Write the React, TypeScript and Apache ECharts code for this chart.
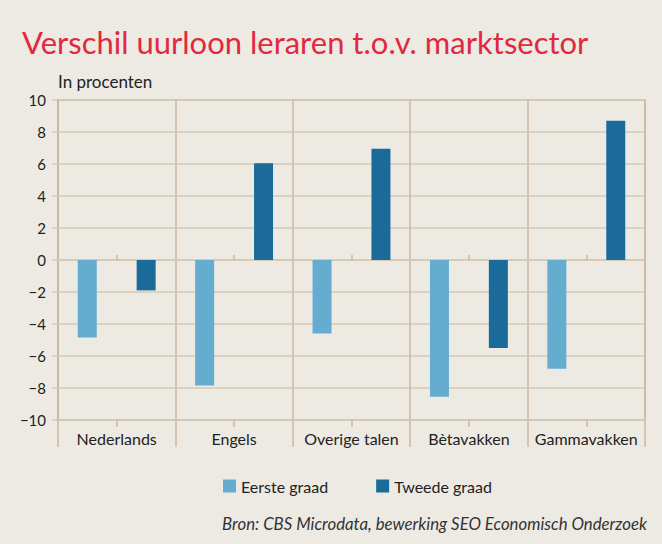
import React, { useEffect, useRef } from "react";
import * as echarts from "echarts";

const categories = ["Nederlands", "Engels", "Overige talen", "Bètavakken", "Gammavakken"];
const eersteGraad = [-4.85, -7.85, -4.6, -8.55, -6.8];
const tweedeGraad = [-1.9, 6.05, 6.95, -5.5, 8.7];
const seriesNames = ["Eerste graad", "Tweede graad"];
const titleText = "Verschil uurloon leraren t.o.v. marktsector";
const unitText = "In procenten";
const sourceText = "Bron: CBS Microdata, bewerking SEO Economisch Onderzoek";

const FONT = "Lato";
const BG = "#EDEAE3";
const GRID_H = "#D5C8B4";
const GRID_V = "#CAB9A0";
const LIGHT = "#64ADD1";
const DARK = "#1B6B9A";
const TEXT = "#222222";

export default function App() {
  const ref = useRef<HTMLDivElement>(null);
  useEffect(() => {
    if (!ref.current) return;
    const chart = echarts.init(ref.current, undefined, { renderer: "svg" });
    const minus = (v: number) => (v < 0 ? "\u2212" + Math.abs(v) : String(v));
    chart.setOption({
      animation: false,
      backgroundColor: BG,
      textStyle: { fontFamily: FONT },
      grid: {
        left: 58,
        right: 17,
        top: 100,
        bottom: 124,
        show: true,
        borderColor: GRID_V,
        borderWidth: 1.5,
        backgroundColor: "transparent",
      },
      legend: {
        left: 223,
        top: 478,
        padding: 0,
        itemWidth: 13,
        itemHeight: 13,
        itemGap: 48,
        icon: "rect",
        textStyle: { fontFamily: FONT, fontSize: 16, color: TEXT },
        data: seriesNames,
      },
      xAxis: [
        {
          type: "category",
          data: categories,
          position: "bottom",
          axisLine: { show: true, onZero: false, lineStyle: { color: GRID_H, width: 1.5 } },
          axisTick: { show: true, interval: 0, length: 27, lineStyle: { color: GRID_V, width: 1.5 } },
          axisLabel: { interval: 0, color: TEXT, fontSize: 16, fontFamily: FONT, margin: 10 },
          splitLine: { show: true, interval: 0, lineStyle: { color: GRID_V, width: 1.5 } },
        },
        {
          type: "category",
          data: categories,
          position: "bottom",
          axisLine: { show: false, onZero: false },
          axisTick: { show: true, interval: 0, alignWithLabel: true, length: 7, lineStyle: { color: GRID_V, width: 1.5 } },
          axisLabel: { show: false },
          splitLine: { show: false },
        },
        {
          type: "category",
          data: categories,
          axisLine: { show: true, onZero: true, lineStyle: { color: GRID_H, width: 1.5 } },
          axisTick: { show: true, interval: 0, alignWithLabel: true, length: 5, lineStyle: { color: GRID_V, width: 1.5 } },
          axisLabel: { show: false },
          splitLine: { show: false },
        },
      ],
      yAxis: {
        type: "value",
        min: -10,
        max: 10,
        interval: 2,
        axisLine: { show: true, lineStyle: { color: GRID_V, width: 1.5 } },
        axisTick: { show: true, length: 6, lineStyle: { color: GRID_H, width: 1.5 } },
        axisLabel: { color: TEXT, fontSize: 15, fontFamily: FONT, margin: 12, formatter: minus },
        splitLine: { show: true, lineStyle: { color: GRID_H, width: 1.5 } },
      },
      series: [
        {
          name: seriesNames[0],
          type: "bar",
          xAxisIndex: 0,
          data: eersteGraad,
          barWidth: 19,
          barGap: "210%",
          itemStyle: { color: LIGHT },
        },
        {
          name: seriesNames[1],
          type: "bar",
          xAxisIndex: 0,
          data: tweedeGraad,
          barWidth: 19,
          barGap: "210%",
          itemStyle: { color: DARK },
        },
      ],
      graphic: [
        {
          type: "text",
          left: 22,
          top: 26,
          style: { text: titleText, fill: "#E2283E", font: `31px ${FONT}` },
        },
        {
          type: "text",
          left: 58,
          top: 73,
          style: { text: unitText, fill: TEXT, font: `17px ${FONT}` },
        },
        {
          type: "text",
          right: 15,
          top: 515,
          style: { text: sourceText, fill: "#333333", font: `italic 16.8px ${FONT}` },
        },
      ],
    });
    return () => chart.dispose();
  }, []);
  return (
    <div
      ref={ref}
      style={{ position: "absolute", left: 0, top: 0, width: 662, height: 544 }}
    />
  );
}
